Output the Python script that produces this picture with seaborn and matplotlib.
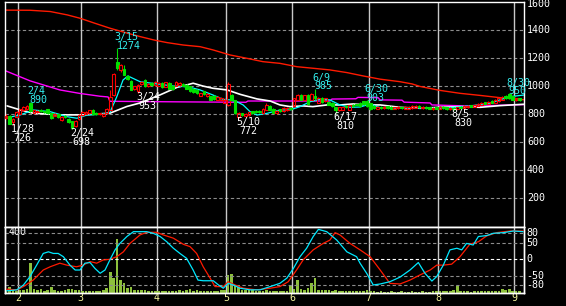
import numpy as np
import pandas as pd
import matplotlib
matplotlib.use("Agg")
import matplotlib.pyplot as plt
from matplotlib.transforms import blended_transform_factory as btf
import seaborn as sns

# ---------------- data ----------------
jp_holidays = ["2022-02-11", "2022-02-23", "2022-03-21", "2022-04-29", "2022-05-03",
               "2022-05-04", "2022-05-05", "2022-07-18", "2022-08-11"]
dates = pd.bdate_range("2022-01-26", "2022-09-02", freq="C", holidays=jp_holidays)

opens = [775, 790, 745, 785, 805, 830, 840, 880, 812, 815, 832, 822, 838, 810, 792, 800, 758, 790, 768, 750,
         715, 768, 798, 805, 808, 832, 810, 800, 790, 810, 835, 940, 1178, 1115, 1125, 1075, 1040, 982, 965, 1015,
         1045, 1000, 1025, 1010, 1005, 1025, 998, 1028, 1000, 1005, 1012, 1020, 1010, 1000, 985, 975, 935, 965, 935, 930,
         935, 905, 900, 885, 868, 940, 900, 785, 808, 788, 795, 822, 825, 826, 810, 835, 862, 842, 810, 838,
         822, 830, 848, 858, 905, 940, 905, 940, 905, 935, 885, 918, 895, 890, 885, 850, 832, 835, 860, 835,
         868, 872, 885, 895, 895, 880, 860, 842, 855, 845, 858, 852, 842, 845, 852, 840, 842, 845, 848, 860,
         845, 855, 850, 840, 850, 842, 855, 850, 838, 845, 840, 852, 845, 852, 865, 855, 862, 870, 888, 878,
         895, 885, 895, 905, 935, 948, 930, 905, 915]
highs = [800, 795, 775, 822, 842, 858, 865, 890, 835, 830, 840, 828, 842, 812, 810, 805, 786, 795, 772, 755,
         760, 800, 822, 826, 835, 836, 814, 812, 810, 848, 975, 1095, 1274, 1160, 1150, 1080, 1045, 1006, 1015, 1042,
         1050, 1024, 1030, 1036, 1030, 1030, 1035, 1032, 1010, 1040, 1035, 1025, 1015, 1005, 990, 980, 955, 970, 950, 935,
         940, 930, 925, 915, 1030, 945, 905, 815, 812, 810, 820, 826, 830, 832, 845, 880, 866, 846, 834, 842,
         852, 850, 852, 920, 945, 945, 942, 944, 950, 985, 925, 922, 920, 895, 890, 855, 855, 855, 864, 870,
         872, 876, 890, 898, 903, 885, 865, 858, 860, 860, 862, 858, 855, 858, 856, 858, 862, 865, 868, 865,
         862, 860, 855, 855, 856, 858, 860, 856, 850, 850, 855, 860, 865, 870, 870, 875, 882, 890, 892, 898,
         900, 910, 920, 935, 940, 950, 930, 920, 920]
lows = [765, 730, 726, 780, 800, 825, 835, 818, 808, 808, 818, 810, 806, 768, 788, 775, 752, 776, 742, 698,
        710, 762, 792, 800, 804, 796, 798, 796, 785, 806, 830, 935, 1120, 1105, 1080, 1048, 972, 976, 953, 1010,
        998, 996, 1004, 1005, 1000, 990, 995, 980, 978, 1000, 1005, 1000, 980, 960, 950, 945, 930, 940, 925, 900,
        905, 900, 895, 880, 862, 898, 805, 772, 792, 784, 790, 806, 810, 812, 806, 830, 830, 808, 805, 820,
        818, 826, 830, 852, 900, 900, 900, 870, 900, 905, 880, 882, 890, 865, 852, 810, 828, 830, 846, 830,
        855, 860, 856, 870, 855, 835, 838, 838, 840, 842, 842, 838, 838, 840, 840, 836, 838, 840, 845, 845,
        842, 842, 838, 835, 838, 838, 840, 835, 832, 830, 836, 840, 842, 848, 850, 850, 858, 865, 872, 872,
        880, 880, 890, 900, 910, 910, 900, 898, 895]
closes = [792, 735, 768, 818, 836, 852, 858, 822, 830, 826, 824, 815, 810, 772, 805, 780, 782, 782, 748, 705,
          755, 795, 818, 820, 830, 800, 804, 808, 806, 842, 925, 1088, 1130, 1150, 1085, 1055, 978, 1000, 1008, 1035,
          1002, 1018, 1010, 1030, 1025, 995, 1030, 985, 985, 1030, 1025, 1005, 985, 965, 960, 955, 950, 945, 945, 905,
          910, 925, 920, 905, 1015, 905, 810, 808, 798, 805, 815, 810, 815, 818, 840, 870, 835, 812, 828, 826,
          845, 845, 836, 915, 938, 905, 938, 875, 945, 915, 920, 888, 915, 870, 858, 830, 850, 850, 851, 865,
          860, 865, 860, 875, 860, 840, 845, 852, 845, 855, 848, 842, 850, 852, 845, 850, 852, 858, 860, 850,
          855, 848, 842, 848, 842, 852, 845, 840, 845, 838, 850, 845, 860, 862, 855, 870, 875, 885, 878, 892,
          885, 900, 915, 925, 915, 915, 905, 915, 900]
volume = [15, 40, 20, 12, 15, 18, 25, 200, 28, 15, 25, 12, 15, 40, 15, 14, 14, 20, 22, 28,
          18, 15, 14, 12, 12, 14, 14, 12, 16, 30, 137, 97, 362, 85, 63, 30, 40, 20, 20, 15,
          18, 14, 12, 12, 14, 12, 12, 12, 10, 12, 15, 12, 20, 25, 12, 20, 12, 12, 10, 12,
          10, 12, 15, 18, 119, 126, 45, 40, 20, 20, 15, 20, 12, 12, 14, 18, 12, 10, 12, 12,
          10, 12, 47, 25, 85, 25, 18, 30, 67, 101, 20, 18, 15, 18, 12, 18, 12, 10, 12, 14,
          10, 12, 10, 12, 20, 14, 9, 7, 10, 8, 6, 9, 8, 7, 10, 8, 6, 9, 7, 8,
          10, 7, 8, 9, 10, 12, 10, 12, 12, 20, 45, 10, 9, 10, 8, 10, 9, 12, 14, 12,
          10, 12, 12, 25, 15, 28, 12, 12, 10]

# moving averages (day index, price)
ma_short_i = [0.3, 4.0, 7.8, 12.7, 17.6, 20.4, 23.3, 27.1, 29.9, 31.9, 33.7, 35.1, 38.6, 43.5, 48.1, 50.1,
              53.0, 55.9, 59.6, 62.5, 64.5, 66.5, 68.3, 70.3, 72.3, 75.2, 78.9, 81.8, 84.7, 87.6, 90.5, 93.3,
              96.2, 99.1, 102.0, 104.9, 107.8, 113.5, 119.3, 125.0, 128.8, 133.7, 139.4, 142.3, 145.2, 149.3]
ma_short_v = [777, 796, 832, 820, 784, 773, 796, 801, 813, 927, 1046, 1075, 1034, 1018, 1003, 1002,
              994, 975, 939, 908, 904, 891, 868, 820, 796, 808, 832, 832, 856, 891, 908, 904,
              868, 851, 853, 875, 848, 844, 844, 844, 851, 861, 880, 904, 927, 939]
ma_mid_i = [0.3, 4.0, 7.8, 15.5, 22.2, 29.9, 34.8, 38.6, 44.4, 49.3, 52.1, 53.9, 56.7, 59.6, 63.7, 67.4,
            72.3, 76.1, 78.9, 81.8, 85.6, 88.4, 92.5, 96.2, 100.0, 104.0, 107.8, 113.5, 119.3, 125.0, 130.8,
            136.6, 142.3, 149.2]
ma_mid_v = [861, 833, 809, 797, 797, 809, 857, 882, 940, 994, 1011, 1023, 1003, 987, 975, 944,
            911, 896, 868, 856, 861, 856, 868, 868, 875, 868, 868, 851, 844, 851, 856,
            851, 863, 873]
ma_13w_i = [-0.3, 6.9, 15.5, 21.3, 27.1, 29.4, 29.9, 50.0, 69.1, 69.7, 93.3, 93.9, 100.8, 101.4, 107.2,
            107.8, 114.1, 114.7, 122.2, 122.7, 133.7, 136.6, 142.3, 149.3]
ma_13w_v = [1113, 1040, 975, 950, 930, 925, 894, 890, 887, 896, 896, 910, 912, 922, 920,
            904, 902, 888, 882, 868, 860, 860, 866, 870]
ma_26w_i = [-0.3, 6.9, 12.7, 17.6, 21.3, 25.6, 29.9, 34.3, 38.6, 42.9, 46.4, 51.0, 55.9, 59.6, 64.5, 69.4,
            74.0, 78.9, 83.8, 88.4, 93.3, 98.2, 102.9, 107.8, 113.5, 117.0, 119.3, 125.0, 130.8, 136.6, 142.3, 149.3]
ma_26w_v = [1545, 1544, 1535, 1511, 1487, 1451, 1416, 1385, 1356, 1330, 1313, 1296, 1284, 1261, 1225, 1201,
            1177, 1165, 1141, 1130, 1118, 1099, 1075, 1052, 1034, 1018, 1000, 972, 951, 936, 920, 905]

# oscillators (day index, value)
osc_fast_i = [0.2, 3.1, 5.0, 6.9, 8.8, 10.7, 12.2, 13.6, 15.0, 16.5, 18.4, 19.9, 21.3, 22.7, 24.2, 25.6,
              27.1, 28.5, 29.9, 31.4, 32.8, 34.8, 36.7, 40.5, 42.4, 44.4, 46.3, 48.2, 50.1, 52.0, 53.9, 55.3,
              56.8, 59.7, 61.2, 62.6, 64.0, 65.5, 67.4, 70.3, 73.2, 76.1, 78.9, 80.9, 82.8, 84.7, 86.6, 88.5,
              90.0, 92.4, 95.3, 98.2, 101.0, 102.0, 103.9, 105.8, 107.8, 110.6, 113.5, 116.4, 118.8, 120.7,
              122.7, 124.1, 126.0, 127.9, 129.9, 131.3, 132.7, 134.6, 136.1, 138.5, 140.4, 143.3, 146.2, 149.0]
osc_fast_v = [-97, -94, -79, -53, -18, 18, 23, 18, 18, 8, -18, -33, -33, -12, -10, -28,
              -43, -33, -2, 29, 49, 70, 85, 85, 80, 70, 54, 34, 18, 3, -33, -64,
              -66, -66, -79, -89, -74, -79, -89, -94, -94, -84, -74, -58, -28, 8, 34, 70,
              92, 85, 59, 23, 8, -12, -43, -79, -76, -69, -55, -33, -10, -43,
              -67, -53, -18, 29, 34, 29, 49, 44, 70, 73, 80, 82, 87, 85]
osc_slow_i = [0.2, 3.1, 5.0, 7.8, 10.7, 12.7, 15.5, 17.5, 20.3, 22.2, 24.2, 26.1, 28.0, 29.9, 31.9, 33.8,
              35.7, 38.6, 40.5, 43.4, 45.3, 48.2, 51.1, 53.0, 54.9, 56.8, 58.8, 60.2, 62.6, 64.0, 66.0, 68.4,
              72.2, 76.1, 78.9, 81.3, 83.7, 85.6, 88.5, 91.4, 93.3, 94.8, 96.2, 99.1, 102.0, 104.9, 107.8,
              110.6, 113.5, 116.4, 119.3, 122.2, 124.1, 126.0, 128.4, 130.8, 133.7, 136.1, 138.5, 141.4, 145.2, 149.0]
osc_slow_v = [-92, -94, -84, -64, -33, -23, -12, -18, -23, -18, -7, -12, -2, 0, 8, 23,
              49, 75, 83, 83, 75, 65, 46, 39, 18, -23, -58, -84, -84, -69, -79, -89,
              -94, -89, -84, -69, -33, -2, 29, 49, 59, 82, 75, 49, 29, 8, -33,
              -74, -76, -64, -48, -33, -18, -18, -15, 8, 47, 54, 72, 82, 87, 87]

high_marks = [("2022-02-04", 890), ("2022-03-15", 1274), ("2022-06-09", 985), ("2022-06-30", 903), ("2022-08-30", 950)]
low_marks = [("2022-01-28", 726), ("2022-02-24", 698), ("2022-03-24", 953), ("2022-05-10", 772),
             ("2022-06-17", 810), ("2022-08-05", 830)]

price_ticks = [200, 400, 600, 800, 1000, 1200, 1400, 1600]
osc_ticks = [80, 50, 0, -50, -80]

# ---------------- style ----------------
sns.set_style("dark", rc={"axes.facecolor": "black", "figure.facecolor": "black"})
plt.rcParams["font.family"] = ["DejaVu Sans Mono", "DejaVu Sans"]

RED = "#ff1a00"
GREEN = "#00e000"
CYAN = "#00ffff"
GRID = "#8c8c8c"
FS = 7.2

W, Hh = 566, 306
L_px, R_px = 5, 524
fig = plt.figure(figsize=(W / 100, Hh / 100), dpi=100)
fig.patch.set_facecolor("black")
ax = fig.add_axes([L_px / W, 1 - 226.5 / Hh, (R_px - L_px) / W, (226.5 - 2) / Hh])
axv = fig.add_axes([L_px / W, 1 - 292.7 / Hh, (R_px - L_px) / W, (292.7 - 226.5) / Hh])

idx = np.arange(len(dates))
O, Hi, Lo, C = map(np.array, (opens, highs, lows, closes))
XL = (-0.32, 149.25)

# volume bars
vol_df = pd.DataFrame({"i": idx, "vol": volume})
sns.barplot(data=vol_df, x="i", y="vol", native_scale=True, color="#8dc03c", saturation=1,
            width=0.75, errorbar=None, linewidth=0, ax=axv, zorder=2)
axo = axv.twinx()

month_idx = [i for i in range(1, len(dates)) if dates[i].month != dates[i - 1].month]

for a in (ax, axv, axo):
    a.set_xlim(*XL)
    a.grid(False)
    for s in a.spines.values():
        s.set_color("white")
        s.set_linewidth(1.0)
ax.set_ylim(0, 1603)
axv.set_ylim(0, 446)
axo.set_ylim(-102.8, 100.9)
axo.patch.set_visible(False)

# gridlines
for g in price_ticks[:-1]:
    ax.axhline(g, color=GRID, lw=0.8, dashes=(3, 2.2), zorder=1)
for g in osc_ticks:
    axo.axhline(g, color="white" if g == 0 else GRID, lw=0.8, dashes=(3, 2.2), zorder=1)
for m in month_idx:
    ax.axvline(m - 0.5, color="#c8c8c8", lw=1.0, zorder=1.5)
    axv.axvline(m - 0.5, color="#c8c8c8", lw=1.0, zorder=1.5)
    axv.text(m - 0.5, -0.085, str(dates[m].month), transform=btf(axv.transData, axv.transAxes),
             ha="center", va="center", color="#f5f5a0", fontsize=FS)

# moving averages
sns.lineplot(x=ma_26w_i, y=ma_26w_v, ax=ax, color=RED, lw=1.0, estimator=None, sort=False, zorder=2)
sns.lineplot(x=ma_13w_i, y=ma_13w_v, ax=ax, color="#ff00ff", lw=1.0, estimator=None, sort=False, zorder=2)
sns.lineplot(x=ma_mid_i, y=ma_mid_v, ax=ax, color="white", lw=1.2, estimator=None, sort=False, zorder=2)
sns.lineplot(x=ma_short_i, y=ma_short_v, ax=ax, color=CYAN, lw=0.9, estimator=None, sort=False, zorder=2)

# candles
up = C >= O
b_lo = np.minimum(O, C)
b_hi = np.maximum(O, C)
ccol = np.where(up, "#ff0000", GREEN)
ax.vlines(idx, Lo, b_lo, colors=ccol, lw=0.8, zorder=3)
ax.vlines(idx, b_hi, Hi, colors=ccol, lw=0.8, zorder=3)
ax.bar(idx, np.maximum(b_hi - b_lo, 3), bottom=b_lo, width=0.78,
       color=[("none" if u else GREEN) for u in up], edgecolor=list(ccol), linewidth=0.8, zorder=3)

# high / low annotations
for d, v in high_marks:
    i = dates.get_loc(pd.Timestamp(d))
    lab = f"{pd.Timestamp(d).month}/{pd.Timestamp(d).day}"
    ax.annotate(lab, xy=(i, v), xytext=(-2.0, 7.8), textcoords="offset points", ha="left", va="center",
                color="#33eeee", fontsize=FS, annotation_clip=False, zorder=5)
    ax.annotate(str(v), xy=(i, v), xytext=(-0.6, 1.5), textcoords="offset points", ha="left", va="center",
                color="#33eeee", fontsize=FS, annotation_clip=False, zorder=5)
for d, v in low_marks:
    i = dates.get_loc(pd.Timestamp(d))
    lab = f"{pd.Timestamp(d).month}/{pd.Timestamp(d).day}"
    ax.annotate(lab, xy=(i, v), xytext=(-1.5, -2.9), textcoords="offset points", ha="left", va="center",
                color="white", fontsize=FS, annotation_clip=False, zorder=5)
    ax.annotate(str(v), xy=(i, v), xytext=(0.5, -9.4), textcoords="offset points", ha="left", va="center",
                color="white", fontsize=FS, annotation_clip=False, zorder=5)

# oscillators
sns.lineplot(x=osc_slow_i, y=osc_slow_v, ax=axo, color=RED, lw=0.9, estimator=None, sort=False, zorder=3)
sns.lineplot(x=osc_fast_i, y=osc_fast_v, ax=axo, color="#00e8ff", lw=0.9, estimator=None, sort=False, zorder=3)

# axis labels
tr = btf(ax.transAxes, ax.transData)
for v in price_ticks:
    ax.text(1 + 3.0 / 519, 1586 if v == 1600 else v, str(v), transform=tr, ha="left", va="center",
            color="white", fontsize=FS)
tro = btf(axo.transAxes, axo.transData)
for v in osc_ticks:
    axo.text(1 + 2.5 / 519, v, str(v), transform=tro, ha="left", va="center", color="white", fontsize=FS)
axv.text(3.3 / 519, 0.921, "400", transform=axv.transAxes, ha="left", va="center", color="white", fontsize=FS)

for a in (ax, axv, axo):
    a.set_xticks([])
    a.set_yticks([])
    a.set_xlabel("")
    a.set_ylabel("")
    a.set_xlim(*XL)

fig.savefig("out.png", dpi=100, facecolor="black")
